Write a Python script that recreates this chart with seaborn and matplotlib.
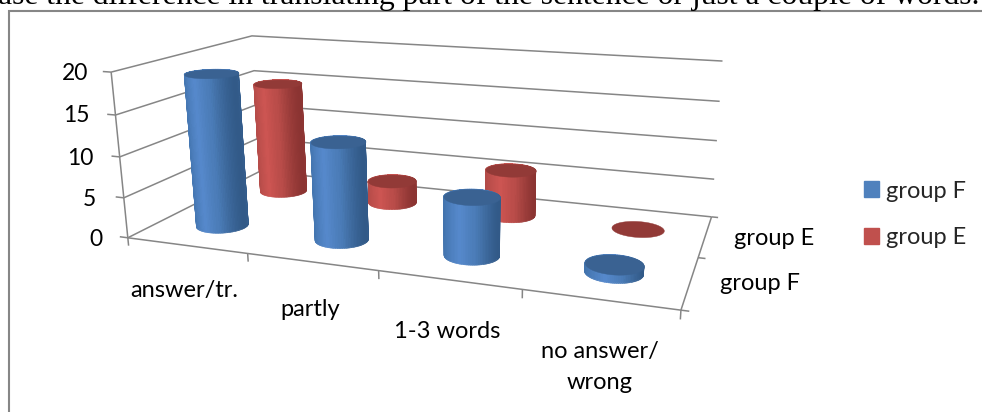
import numpy as np
import seaborn as sns
import matplotlib
matplotlib.use("Agg")
import matplotlib.pyplot as plt
from matplotlib.patches import Patch, Rectangle
from mpl_toolkits.mplot3d.art3d import Poly3DCollection

# values
categories = ["answer/tr.", "partly", "1-3 words", "no answer/\nwrong"]
series_names = ["group F", "group E"]
group_f = [19, 12, 7, 1]
group_e = [15, 3, 6, 0]
z_ticks = [0, 5, 10, 15, 20]

W, H = 982, 412
GRAY = "#868686"
palette = sns.color_palette(["#4F81BD", "#C0504D"])
side_stops = [["#4172AB", "#5689CC", "#4A7BB6", "#325A88"], ["#B04A47", "#CD5552", "#B84C49", "#8B3432"]]
cap_colors = ["#3A6292", "#923A37"]

sns.set_theme(style="white")
plt.rcParams["font.family"] = ["Lato", "DejaVu Sans"]

fig = plt.figure(figsize=(W / 100, H / 100), dpi=100)
ax = fig.add_axes([0, 0, 1, 1], projection="3d", computed_zorder=False)
ax.set_axis_off()
ax.patch.set_visible(False)
ax.set_xlim(0, 4)
ax.set_ylim(0, 2)
ax.set_zlim(0, 20)
ax.apply_aspect()

# camera: fit to where the corners of the plot box sit in the picture
box_world = [(0, 0, 0), (4, 0, 0), (4, 2, 0), (0, 2, 0), (0, 0, 20), (0, 2, 20), (4, 2, 20)]
box_pixel = [(126, 238), (681, 310), (711, 217), (262, 171), (113, 72), (250, 36), (723, 61)]
target = ax.transData.inverted().transform([(x, H - y) for x, y in box_pixel])
rows = []
for (X, Y, Z), (u, v) in zip(box_world, target):
    rows.append([X, Y, Z, 1, 0, 0, 0, 0, -u * X, -u * Y, -u * Z, -u])
    rows.append([0, 0, 0, 0, X, Y, Z, 1, -v * X, -v * Y, -v * Z, -v])
P = np.linalg.svd(np.array(rows))[2][-1].reshape(3, 4)
if P[2] @ [2, 1, 10, 1] < 0:
    P = -P
M = np.array([P[0], P[1], [0, 0, 0, -1], P[2]])
ax.get_proj = lambda: M


def line3d(xs, ys, zs):
    ax.plot(xs, ys, zs, color=GRAY, lw=1.1, clip_on=False, zorder=1, solid_capstyle="butt")


# walls and floor
for z in z_ticks:
    line3d([0, 0, 4], [0, 2, 2], [z, z, z])
    line3d([-0.07, 0], [0, 0], [z, z])
line3d([0, 0], [0, 0], [0, 20])
line3d([0, 4, 4], [0, 0, 2], [0, 0, 0])
for i in range(5):
    line3d([i, i], [0, 0], [-1, 0])
for y in [0, 1, 2]:
    line3d([4, 4.05], [y, y], [0, 0])


def side(cx, cy, r, z0, z1, k, order, **kw):
    theta = np.linspace(0, 2 * np.pi, 97)
    xs = cx + r * np.cos(theta)
    ys = cy + r * np.sin(theta)
    t = (np.cos(theta) + 1) / 2
    stops = np.array([matplotlib.colors.to_rgb(c) for c in side_stops[k]])
    rgb = np.column_stack([np.interp(t, [0, 0.42, 0.7, 1], stops[:, c]) for c in range(3)])
    surf = ax.plot_surface(np.stack([xs, xs]), np.stack([ys, ys]),
                           np.array([np.full_like(xs, z0), np.full_like(xs, z1)]),
                           facecolors=np.stack([rgb, rgb]), rstride=1, cstride=1, shade=False,
                           zorder=order, **kw)
    surf.set_clip_on(False)
    return surf


def cylinder(cx, cy, h, k, order, r=0.195):
    if h > 0:
        # smooth outline underneath, seamless shading on top of it
        side(cx, cy, r, 0, h, k, order, linewidth=0.4).set_joinstyle("round")
        side(cx, cy, r * 0.96, min(0.12, h / 2), h, k, order + 0.2, linewidth=0, antialiased=False)
    theta = np.linspace(0, 2 * np.pi, 97)
    rim = list(zip(cx + r * np.cos(theta), cy + r * np.sin(theta), np.full_like(theta, h)))
    cap = Poly3DCollection([rim], facecolor=cap_colors[k], edgecolor=cap_colors[k], linewidth=0.3,
                           zorder=order + 0.5)
    cap.set_clip_on(False)
    ax.add_collection3d(cap, autolim=False)


for i, v in enumerate(group_e):
    cylinder(i + 0.5, 1.5, v, 1, 2 + i)
for i, v in enumerate(group_f):
    cylinder(i + 0.5, 0.5, v, 0, 10 + i)


def put(x, y, s, ha="center", **kw):
    fig.text(x / W, 1 - y / H, s, ha=ha, va="center", color="black", **kw)


# value axis, category and series labels
for (x, y), s in zip([(102, 240), (96, 200), (93, 158), (90, 116), (88, 73)], z_ticks):
    put(x, y, str(s), ha="right", fontsize=16.5)
for (x, y), s in zip([(184, 291), (310, 310), (447, 331), (600, 367)], categories):
    put(x, y, s, fontsize=17, linespacing=1.55)
put(774, 239, series_names[1], fontsize=17)
put(760, 283, series_names[0], fontsize=17)

handles = [Patch(color=c, label=n) for c, n in zip(palette, series_names)]
fig.legend(handles=handles, loc="center left", bbox_to_anchor=(864 / W, 1 - 214.5 / H), frameon=False,
           fontsize=17, handlelength=0.635, handleheight=0.635, handletextpad=0.3, labelspacing=1.1,
           borderaxespad=0, borderpad=0)

# box of the embedded chart and the line of text cut off above it
fig.add_artist(Rectangle((9 / W, -0.2), 1.2, 1.2 - 11 / H, fill=False, ec=GRAY, lw=1.5,
                         transform=fig.transFigure))
fig.text(-2 / W, 1 - 4 / H, "ase the difference in translating part of the sentence or just a couple of words.",
         family="Liberation Serif", fontsize=22.8, color="black", ha="left", va="baseline")

fig.savefig("out.png", dpi=100)
